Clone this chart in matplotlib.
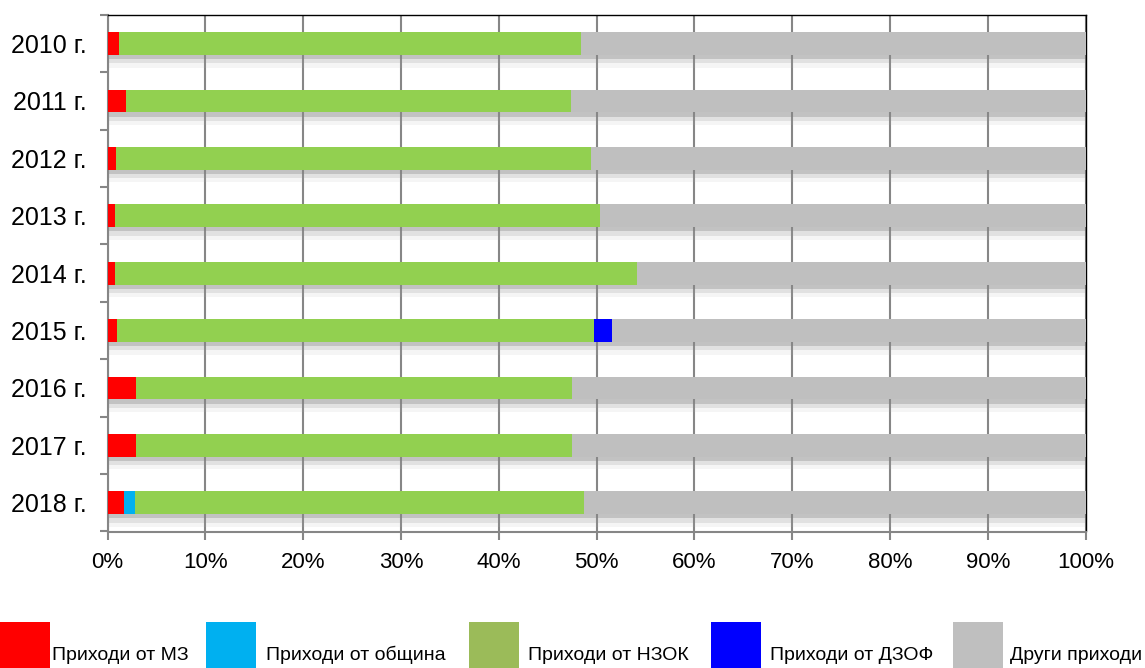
import matplotlib
matplotlib.use("Agg")
import matplotlib.pyplot as plt
import matplotlib.patheffects as pe
from matplotlib.patches import Rectangle
import numpy as np

plt.rcParams['font.family'] = ['Liberation Sans', 'DejaVu Sans']

years = ['2010 г.', '2011 г.', '2012 г.', '2013 г.', '2014 г.',
         '2015 г.', '2016 г.', '2017 г.', '2018 г.']
mz = [1.15, 1.85, 0.9, 0.8, 0.8, 1.0, 2.9, 2.9, 1.7]
obshtina = [0, 0, 0, 0, 0, 0, 0, 0, 1.1]
nzok = [47.25, 45.55, 48.5, 49.6, 53.3, 48.7, 44.6, 44.6, 45.9]
dzof = [0, 0, 0, 0, 0, 1.9, 0, 0, 0]
drugi = [100 - a - b - c - d for a, b, c, d in zip(mz, obshtina, nzok, dzof)]

labels = ['Приходи от МЗ', 'Приходи от община', 'Приходи от НЗОК',
          'Приходи от ДЗОФ', 'Други приходи']
bar_colors = ['#FF0000', '#00B0F0', '#92D050', '#0000FF', '#BFBFBF']
legend_colors = ['#FF0000', '#00B0F0', '#9BBB59', '#0000FF', '#BFBFBF']

fig = plt.figure(figsize=(11.45, 6.68), dpi=100)
ax = fig.add_axes([107.5 / 1145, 1 - 531.5 / 668, 978 / 1145, 516.6 / 668])

ypos = np.arange(len(years))

# soft shadow under each whole bar
shadow = [pe.SimplePatchShadow(offset=(0, -3), shadow_rgbFace='#707070', alpha=0.3),
          pe.SimplePatchShadow(offset=(0, -6), shadow_rgbFace='#909090', alpha=0.2),
          pe.SimplePatchShadow(offset=(0, -9), shadow_rgbFace='#b0b0b0', alpha=0.12),
          pe.Normal()]
for y in ypos:
    s = ax.barh(y, 100, height=0.4, color='white', zorder=2)
    for p in s:
        p.set_path_effects(shadow)

left = np.zeros(len(years))
for vals, col in zip([mz, obshtina, nzok, dzof, drugi], bar_colors):
    vals = np.array(vals)
    ax.barh(ypos, vals, left=left, height=0.4, color=col, zorder=3)
    left += vals

ax.set_xlim(0, 100)
ax.set_ylim(len(years) - 0.5, -0.5)
ax.set_xticks(np.arange(0, 101, 10))
ax.set_xticklabels([f'{v}%' for v in range(0, 101, 10)], fontsize=16)
ax.set_yticks(ypos)
ax.set_yticklabels(years, fontsize=18)
ax.tick_params(axis='y', length=0, pad=15)
ax.set_yticks(np.arange(-0.5, len(years)), minor=True)
ax.tick_params(axis='y', which='minor', length=6, width=1.5, color='#868686')
ax.tick_params(axis='x', length=6, width=1.5, color='#868686', pad=9)
ax.grid(axis='x', color='#868686', linewidth=1.5, zorder=1)
ax.set_axisbelow(True)
for side in ['left', 'bottom']:
    ax.spines[side].set_color('#868686')
    ax.spines[side].set_linewidth(1.5)
for side in ['top', 'right']:
    ax.spines[side].set_color('black')
    ax.spines[side].set_linewidth(1.0)

# legend below the chart
patch_x = [0, 206, 469, 711, 953]
text_x = [52, 266, 528, 770, 1010]
for px, tx, col, lab in zip(patch_x, text_x, legend_colors, labels):
    fig.patches.append(Rectangle((px / 1145, 0), 50 / 1145, 46 / 668,
                                 transform=fig.transFigure, facecolor=col,
                                 edgecolor='none'))
    fig.text(tx / 1145, 4 / 668, lab, fontsize=14, va='bottom', ha='left')

fig.savefig('out.png', dpi=100)
